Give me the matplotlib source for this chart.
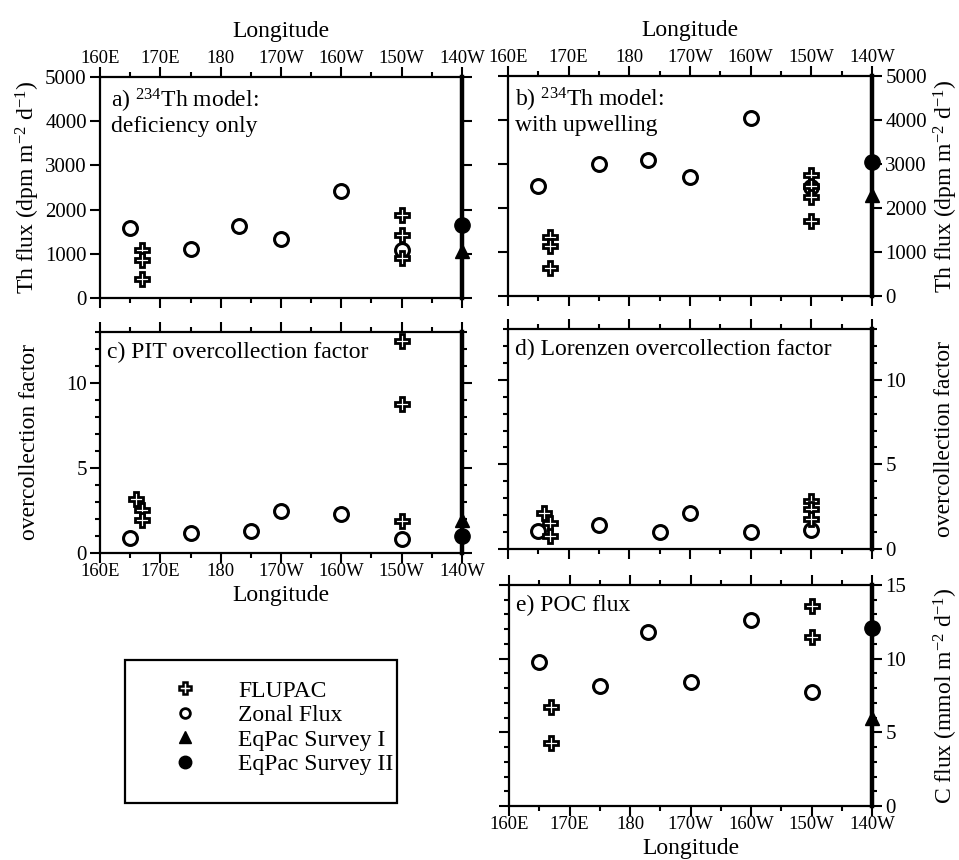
import matplotlib
matplotlib.use('Agg')
import matplotlib.pyplot as plt
from matplotlib.lines import Line2D
from matplotlib.patches import Rectangle
from matplotlib.ticker import FixedLocator, MultipleLocator

plt.rcParams['font.family'] = ['Liberation Serif', 'DejaVu Serif']
plt.rcParams['mathtext.fontset'] = 'custom'
plt.rcParams['mathtext.rm'] = 'Liberation Serif'
plt.rcParams['mathtext.it'] = 'Liberation Serif:italic'
plt.rcParams['axes.linewidth'] = 1.6

# longitude in degrees east
lon_ticks = [160, 170, 180, 190, 200, 210, 220]
lon_labels = ['160E', '170E', '180', '170W', '160W', '150W', '140W']

# zonal flux stations
zonal_lon_ab = [165, 175, 183, 190, 200, 210]
zonal_lon_cd = [165, 175, 185, 190, 200, 210]
zonal_th_def = [1580, 1100, 1630, 1330, 2420, 1090]
zonal_th_upw = [2500, 3000, 3080, 2700, 4050, 2480]
zonal_pit = [0.9, 1.2, 1.3, 2.5, 2.3, 0.85]
zonal_lor = [1.05, 1.4, 1.0, 2.1, 1.0, 1.15]
zonal_poc = [9.8, 8.15, 11.8, 8.4, 12.6, 7.75]

# FLUPAC stations
flupac_lon_a = [167, 167, 167, 210, 210, 210]
flupac_th_def = [1090, 860, 420, 1880, 1425, 900]
flupac_lon_b = [167, 167, 167, 210, 210, 210, 210]
flupac_th_upw = [1350, 1130, 640, 2750, 2500, 2250, 1700]
flupac_lon_cd = [166, 167, 167, 210, 210, 210]
flupac_pit = [3.2, 2.55, 1.95, 12.5, 8.75, 1.9]
flupac_lor = [2.15, 1.55, 0.75, 2.85, 2.35, 1.8]
flupac_lon_e = [167, 167, 210, 210]
flupac_poc = [6.75, 4.3, 13.6, 11.5]

# EqPac surveys at 140W
eqpac_lon = 220
survey1 = {'a': 1060, 'b': 2300, 'c': 1.95, 'e': 6.0}
survey2 = {'a': 1650, 'b': 3050, 'c': 1.0, 'e': 12.1}

W, H = 959, 860
fig = plt.figure(figsize=(W / 100, H / 100), dpi=100)


def px_axes(left, top, right, bottom):
    return fig.add_axes([left / W, 1 - bottom / H, (right - left) / W, (bottom - top) / H])


ax_a = px_axes(100, 77, 462, 298)
ax_b = px_axes(508, 76, 872, 296)
ax_c = px_axes(100, 332, 462, 553)
ax_d = px_axes(508, 329, 872, 549)
ax_e = px_axes(509, 585, 872, 806)

flupac_kw = dict(ls='none', marker='P', ms=10.5, mfc='white', mec='black', mew=2.0, zorder=4)
zonal_kw = dict(ls='none', marker='o', ms=10, mfc='white', mec='black', mew=2.2, zorder=3)
s1_kw = dict(ls='none', marker='^', ms=10, color='black', zorder=5, clip_on=False)
s2_kw = dict(ls='none', marker='o', ms=11, color='black', zorder=5, clip_on=False)


def setup(ax, ylim, ymajor, yminor, top_labels, bottom_labels, yside):
    ax.set_xlim(160, 220)
    ax.set_ylim(*ylim)
    ax.xaxis.set_major_locator(FixedLocator(lon_ticks))
    ax.xaxis.set_minor_locator(MultipleLocator(5))
    ax.set_xticklabels(lon_labels)
    ax.yaxis.set_major_locator(MultipleLocator(ymajor))
    if yminor:
        ax.yaxis.set_minor_locator(MultipleLocator(yminor))
    ax.tick_params(which='both', direction='out', width=1.5, top=True, right=True)
    ax.tick_params(which='major', length=7.5)
    ax.tick_params(which='minor', length=3.5)
    ax.tick_params(axis='x', labelsize=13.5, pad=0,
                   labeltop=top_labels, labelbottom=bottom_labels)
    ax.tick_params(axis='y', labelsize=15, pad=2,
                   labelleft=(yside == 'left'), labelright=(yside == 'right'))
    ax.spines['right'].set_linewidth(3.2)
    if yside == 'right':
        ax.yaxis.set_label_position('right')
    if top_labels:
        ax.xaxis.set_label_position('top')
        ax.set_xlabel('Longitude', fontsize=17, labelpad=9)
    if bottom_labels:
        ax.set_xlabel('Longitude', fontsize=17, labelpad=3)


def panel_text(ax, s, x=0.02, y=0.955):
    ax.text(x, y, s, transform=ax.transAxes, fontsize=17, va='top', ha='left',
            linespacing=1.05)


# a) deficiency only
setup(ax_a, (0, 5000), 1000, None, True, False, 'left')
ax_a.plot(zonal_lon_ab, zonal_th_def, **zonal_kw)
ax_a.plot(flupac_lon_a, flupac_th_def, **flupac_kw)
ax_a.plot(eqpac_lon, survey1['a'], **s1_kw)
ax_a.plot(eqpac_lon, survey2['a'], **s2_kw)
ax_a.set_ylabel('Th flux (dpm m$^{-2}$ d$^{-1}$)', fontsize=17)
ax_a.yaxis.set_label_coords(-0.16, 0.5)
panel_text(ax_a, 'a) $^{234}$Th model:\ndeficiency only', x=0.03, y=0.955)

# b) with upwelling
setup(ax_b, (0, 5000), 1000, None, True, False, 'right')
ax_b.plot(zonal_lon_ab, zonal_th_upw, **zonal_kw)
ax_b.plot(flupac_lon_b, flupac_th_upw, **flupac_kw)
ax_b.plot(eqpac_lon, survey1['b'], **s1_kw)
ax_b.plot(eqpac_lon, survey2['b'], **s2_kw)
ax_b.set_ylabel('Th flux (dpm m$^{-2}$ d$^{-1}$)', fontsize=17, rotation=90)
ax_b.yaxis.set_label_coords(1.165, 0.5)
panel_text(ax_b, 'b) $^{234}$Th model:\nwith upwelling')

# c) PIT overcollection
setup(ax_c, (0, 13), 5, 1, False, True, 'left')
ax_c.plot(zonal_lon_cd, zonal_pit, **zonal_kw)
ax_c.plot(flupac_lon_cd, flupac_pit, **flupac_kw)
ax_c.plot(eqpac_lon, survey1['c'], **s1_kw)
ax_c.plot(eqpac_lon, survey2['c'], **s2_kw)
ax_c.set_ylabel('overcollection factor', fontsize=17)
ax_c.yaxis.set_label_coords(-0.165, 0.5)
panel_text(ax_c, 'c) PIT overcollection factor')

# d) Lorenzen overcollection
setup(ax_d, (0, 13), 5, 1, False, False, 'right')
ax_d.plot(zonal_lon_cd, zonal_lor, **zonal_kw)
ax_d.plot(flupac_lon_cd, flupac_lor, **flupac_kw)
ax_d.set_ylabel('overcollection factor', fontsize=17, rotation=90)
ax_d.yaxis.set_label_coords(1.17, 0.5)
panel_text(ax_d, 'd) Lorenzen overcollection factor')

# e) POC flux
setup(ax_e, (0, 15), 5, 1, False, True, 'right')
ax_e.plot(zonal_lon_ab, zonal_poc, **zonal_kw)
ax_e.plot(flupac_lon_e, flupac_poc, **flupac_kw)
ax_e.plot(eqpac_lon, survey1['e'], **s1_kw)
ax_e.plot(eqpac_lon, survey2['e'], **s2_kw)
ax_e.set_ylabel('C flux (mmol m$^{-2}$ d$^{-1}$)', fontsize=17, rotation=90)
ax_e.yaxis.set_label_coords(1.165, 0.5)
panel_text(ax_e, 'e) POC flux')

# legend box
handles = [
    Line2D([], [], ls='none', marker='P', ms=8, mfc='white', mec='black', mew=1.8),
    Line2D([], [], ls='none', marker='o', ms=7, mfc='white', mec='black', mew=2),
    Line2D([], [], ls='none', marker='^', ms=8, color='black'),
    Line2D([], [], ls='none', marker='o', ms=9, color='black'),
]
names = ['FLUPAC', 'Zonal Flux', 'EqPac Survey I', 'EqPac Survey II']
fig.legend(handles, names, loc='upper left', bbox_to_anchor=(173 / W, 1 - 680 / H),
           frameon=False, fontsize=17, handlelength=1.0, handletextpad=1.75,
           labelspacing=0.13, borderpad=0, borderaxespad=0)
fig.patches.append(Rectangle((125 / W, 1 - 803 / H), 272 / W, 143 / H,
                             transform=fig.transFigure, fill=False, lw=1.6, color='black'))

fig.savefig('out.png', dpi=100)
